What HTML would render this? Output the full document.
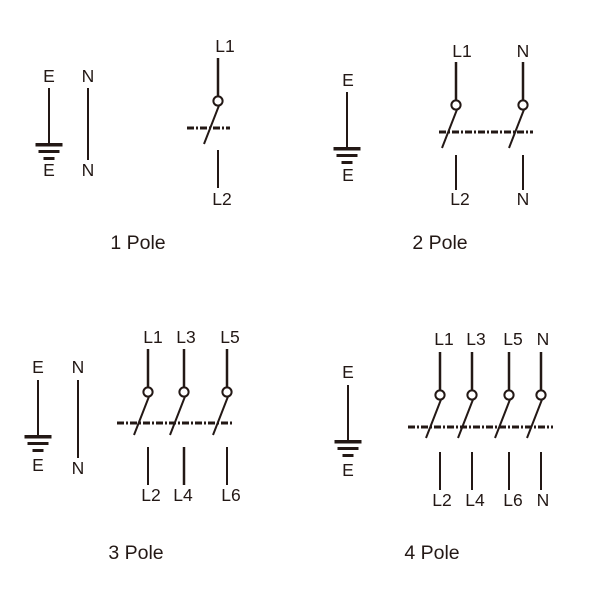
<!DOCTYPE html>
<html><head><meta charset="utf-8"><style>html,body{margin:0;padding:0;background:#fff}svg{display:block}</style></head>
<body>
<svg width="600" height="600" viewBox="0 0 600 600" xmlns="http://www.w3.org/2000/svg" font-family="Liberation Sans, sans-serif" fill="#231815">
<defs>
<g id="sw" stroke="#231815" fill="none">
  <line x1="0" y1="0" x2="0" y2="38" stroke-width="2.5"/>
  <circle cx="0" cy="43" r="4.6" stroke-width="2" fill="#fff"/>
  <line x1="1" y1="47.5" x2="-14" y2="86" stroke-width="2"/>
</g>
<g id="gnd" stroke="#231815">
  <line x1="0" y1="0" x2="0" y2="56" stroke-width="2"/>
  <rect x="-13.5" y="55" width="27" height="3.5" fill="#231815" stroke="none"/>
  <rect x="-10.5" y="62" width="21" height="3" fill="#231815" stroke="none"/>
  <rect x="-5.5" y="69" width="11" height="3" fill="#231815" stroke="none"/>
</g>
</defs>
<g font-size="17.5" text-anchor="middle">
<!-- 1 Pole -->
<text x="49" y="82">E</text>
<use href="#gnd" x="49" y="88"/>
<text x="49" y="176">E</text>
<text x="88" y="82">N</text>
<line x1="88" y1="88" x2="88" y2="160" stroke="#231815" stroke-width="2"/>
<text x="88" y="176">N</text>
<text x="225" y="52">L1</text>
<use href="#sw" x="218" y="58"/>
<line x1="187" y1="128" x2="230" y2="128" stroke="#231815" stroke-width="3" stroke-dasharray="7,2,2,2"/>
<line x1="218" y1="150" x2="218" y2="188" stroke="#231815" stroke-width="2"/>
<text x="222" y="205">L2</text>
<text x="138" y="249" font-size="19.5">1 Pole</text>

<!-- 2 Pole -->
<text x="348" y="86">E</text>
<use href="#gnd" x="347" y="92"/>
<text x="348" y="181">E</text>
<text x="462" y="57">L1</text>
<text x="523" y="57">N</text>
<use href="#sw" x="456" y="62"/>
<use href="#sw" x="523" y="62"/>
<line x1="439" y1="132" x2="533" y2="132" stroke="#231815" stroke-width="3" stroke-dasharray="7,2,2,2"/>
<line x1="456" y1="155" x2="456" y2="190" stroke="#231815" stroke-width="2"/>
<line x1="523" y1="155" x2="523" y2="190" stroke="#231815" stroke-width="2"/>
<text x="460" y="205">L2</text>
<text x="523" y="205">N</text>
<text x="440" y="249" font-size="19.5">2 Pole</text>

<!-- 3 Pole -->
<text x="38" y="373">E</text>
<use href="#gnd" x="38" y="380"/>
<text x="38" y="471">E</text>
<text x="78" y="373">N</text>
<line x1="78" y1="380" x2="78" y2="458" stroke="#231815" stroke-width="2"/>
<text x="78" y="474">N</text>
<text x="153" y="343">L1</text>
<text x="186" y="343">L3</text>
<text x="230" y="343">L5</text>
<use href="#sw" x="148" y="349"/>
<use href="#sw" x="184" y="349"/>
<use href="#sw" x="227" y="349"/>
<line x1="117" y1="423" x2="233" y2="423" stroke="#231815" stroke-width="3" stroke-dasharray="7,2,2,2"/>
<line x1="148" y1="447" x2="148" y2="485" stroke="#231815" stroke-width="2"/>
<line x1="184" y1="447" x2="184" y2="485" stroke="#231815" stroke-width="2.5"/>
<line x1="227" y1="447" x2="227" y2="485" stroke="#231815" stroke-width="2"/>
<text x="151" y="501">L2</text>
<text x="183" y="501">L4</text>
<text x="231" y="501">L6</text>
<text x="136" y="559" font-size="19.5">3 Pole</text>

<!-- 4 Pole -->
<text x="348" y="378">E</text>
<use href="#gnd" x="348" y="385"/>
<text x="348" y="476">E</text>
<text x="444" y="345">L1</text>
<text x="476" y="345">L3</text>
<text x="513" y="345">L5</text>
<text x="543" y="345">N</text>
<use href="#sw" x="440" y="352"/>
<use href="#sw" x="472" y="352"/>
<use href="#sw" x="509" y="352"/>
<use href="#sw" x="541" y="352"/>
<line x1="408" y1="427" x2="553" y2="427" stroke="#231815" stroke-width="3" stroke-dasharray="7,2,2,2"/>
<line x1="440" y1="452" x2="440" y2="490" stroke="#231815" stroke-width="2"/>
<line x1="472" y1="452" x2="472" y2="490" stroke="#231815" stroke-width="2"/>
<line x1="509" y1="452" x2="509" y2="490" stroke="#231815" stroke-width="2"/>
<line x1="541" y1="452" x2="541" y2="490" stroke="#231815" stroke-width="2"/>
<text x="442" y="506">L2</text>
<text x="475" y="506">L4</text>
<text x="513" y="506">L6</text>
<text x="543" y="506">N</text>
<text x="432" y="559" font-size="19.5">4 Pole</text>
</g>
</svg>
</body></html>
